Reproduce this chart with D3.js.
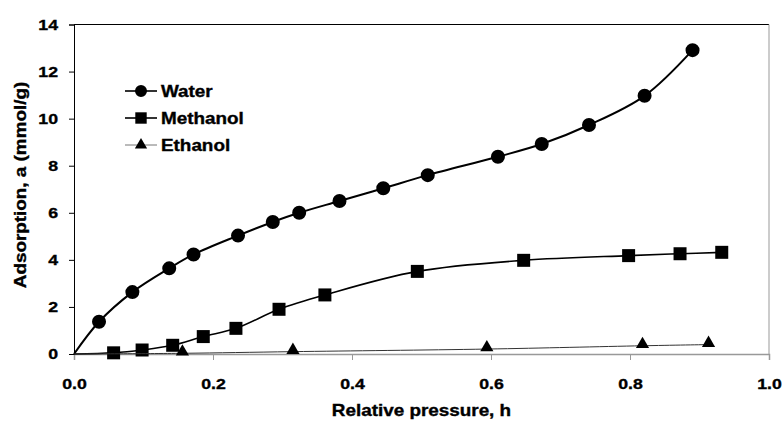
<!DOCTYPE html>
<html><head><meta charset="utf-8">
<script src="https://cdn.jsdelivr.net/npm/d3@7"></script>
<style>body{margin:0;background:#fff}svg text{font-family:"Liberation Sans",Arial,sans-serif;font-weight:bold;fill:#000;stroke:#000;stroke-width:0.35px}</style>
</head><body><svg id="c" width="782" height="421"></svg>
<script>
const waterX = [0.036,0.084,0.137,0.172,0.236,0.286,0.324,0.382,0.445,0.509,0.610,0.673,0.741,0.821,0.890];
const waterY = [1.37,2.63,3.64,4.23,5.03,5.61,6.00,6.50,7.04,7.60,8.38,8.92,9.73,10.97,12.91];
const methX = [0.057,0.098,0.142,0.186,0.233,0.295,0.361,0.494,0.647,0.798,0.872,0.932];
const methY = [0.05,0.17,0.37,0.74,1.09,1.90,2.51,3.51,3.98,4.18,4.26,4.32];
const ethX = [0.156,0.315,0.594,0.818,0.913];
const ethY = [0.03,0.10,0.21,0.35,0.40];
const xTicks = [0,0.2,0.4,0.6,0.8,1.0];
const yTicks = [0,2,4,6,8,10,12,14];
const seriesNames = ["Water","Methanol","Ethanol"];
const origin = [0,0];

const SX = 1.18; // horizontal stretch of the reference lettering
const svg = d3.select("#c");
const L=74,R=769,T=24.5,B=354;
const x = d3.scaleLinear().domain([0,1]).range([L,R]);
const y = d3.scaleLinear().domain([0,14]).range([B,T]);

function stretch(sel){
  sel.each(function(){
    const t=d3.select(this);
    const ax=+t.attr("x")||0, ay=+t.attr("y")||0;
    t.attr("transform",`translate(${ax},${ay}) scale(${SX},1) translate(${-ax},${-ay})`);
  });
}

// plot border
svg.append("line").attr("x1",L).attr("x2",R).attr("y1",T).attr("y2",T).attr("stroke","#000").attr("stroke-width",1);
svg.append("line").attr("x1",R).attr("x2",R).attr("y1",T).attr("y2",B).attr("stroke","#999").attr("stroke-width",1);

// x axis
const xa = svg.append("g").attr("transform",`translate(0,${B})`)
  .call(d3.axisBottom(x).tickValues(xTicks).tickFormat(d3.format(".1f")).tickSize(6).tickPadding(18));
xa.select(".domain").attr("stroke","#999").attr("stroke-width",1.5);
xa.selectAll(".tick line").attr("stroke","#999");
xa.selectAll("text").attr("font-size",15).call(stretch);
// y axis
const ya = svg.append("g").attr("transform",`translate(${L},0)`)
  .call(d3.axisLeft(y).tickValues(yTicks).tickFormat(d3.format("d")).tickSize(5).tickPadding(11));
ya.select(".domain").attr("stroke","#000");
ya.selectAll(".tick line").attr("stroke","#000");
ya.selectAll("text").attr("font-size",15).call(stretch);

svg.append("text").attr("x",(L+R)/2).attr("y",416).attr("text-anchor","middle").attr("font-size",16).text("Relative pressure, h").call(stretch);
svg.append("text").attr("transform",`translate(26,185) rotate(-90) scale(${SX},1)`).attr("text-anchor","middle").attr("font-size",16).text("Adsorption, a (mmol/g)");

const line = d3.line().x(d=>x(d[0])).y(d=>y(d[1])).curve(d3.curveCatmullRom.alpha(0.5));
function pts(xs,ys){return xs.map((v,i)=>[v,ys[i]]);}
const series = [
  {name:seriesNames[0],p:pts(waterX,waterY),shape:"circle",stroke:"#000",w:2},
  {name:seriesNames[1],p:pts(methX,methY),shape:"square",stroke:"#000",w:1.6},
  {name:seriesNames[2],p:pts(ethX,ethY),shape:"triangle",stroke:"#333",w:1}
];
const sym = {circle:d3.symbol(d3.symbolCircle,154), square:d3.symbol(d3.symbolSquare,169), triangle:d3.symbol(d3.symbolTriangle,75)};
const symL = {circle:d3.symbol(d3.symbolCircle,113), square:d3.symbol(d3.symbolSquare,130), triangle:d3.symbol(d3.symbolTriangle,65)};
series.forEach(s=>{
  svg.append("path").attr("d",line([origin,...s.p])).attr("fill","none").attr("stroke",s.stroke).attr("stroke-width",s.w);
  svg.selectAll(null).data(s.p).enter().append("path")
    .attr("transform",d=>`translate(${x(d[0])},${y(d[1]) - (s.shape==="triangle"?1.5:0)})`)
    .attr("d",sym[s.shape]()).attr("fill","#000");
});

// legend
const lg = svg.append("g");
series.forEach((s,i)=>{
  const cy = 91 + i*27;
  lg.append("line").attr("x1",125).attr("x2",157).attr("y1",cy).attr("y2",cy).attr("stroke",i===2?"#777":"#000").attr("stroke-width",i===2?1:1.6);
  lg.append("path").attr("transform",`translate(141,${cy})`).attr("d",symL[s.shape]()).attr("fill","#000");
  lg.append("text").attr("x",161).attr("y",cy+6).attr("font-size",16).text(s.name).call(stretch);
});
</script></body></html>
